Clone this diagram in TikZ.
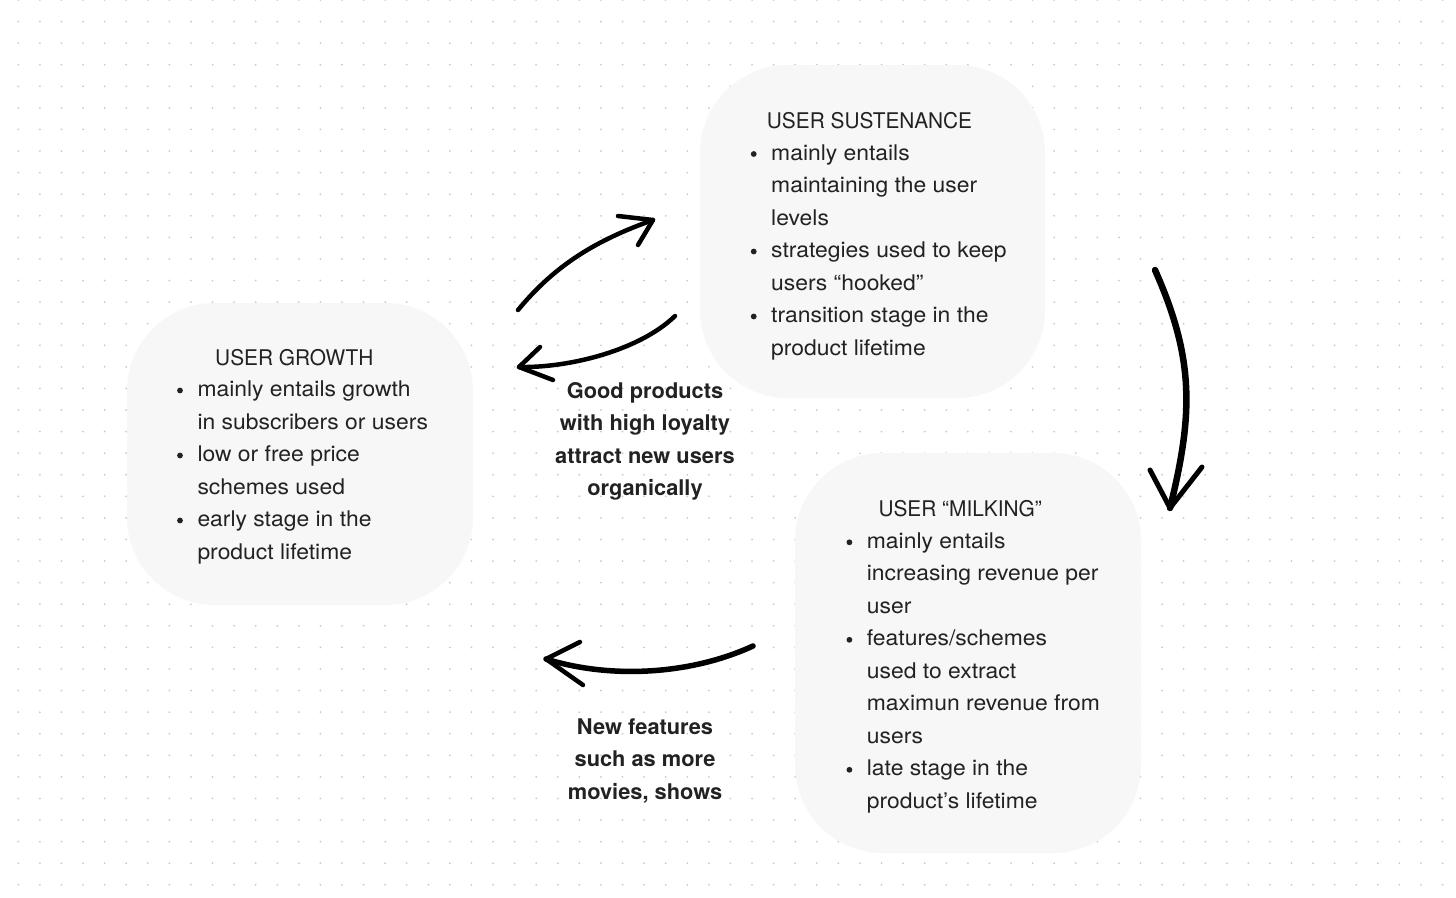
\documentclass[tikz,border=0pt]{standalone}
\usepackage{fontspec}
\setmainfont{TeX Gyre Heros}[FakeStretch=1.06]
\newfontfamily\labf{TeX Gyre Heros}[FakeStretch=1.01]
\newfontfamily\ttlf{TeX Gyre Heros}[FakeStretch=0.965]
\definecolor{boxfill}{HTML}{F7F7F7}
\definecolor{txt}{HTML}{222222}
\definecolor{dotc}{HTML}{CACACA}
\newcommand\bu{\makebox[6pt]{\tikz[baseline=0pt]\fill[txt] (3pt,6pt) circle (2.9pt);}\hspace{14.5pt}}
\newcommand\ind{\hspace{20.5pt}}
\tikzset{
  box/.style={fill=boxfill, rounded corners=88pt, inner sep=0},
  ttl/.style={anchor=base west, inner sep=0, text=txt, font=\ttlf\fontsize{21.6}{32.5}\selectfont},
  lst/.style={anchor=base west, inner sep=0, text=txt, font=\fontsize{21.6}{32.5}\selectfont},
  lbl/.style={anchor=base, inner sep=0, text=txt, font=\labf\bfseries\fontsize{21.6}{32.5}\selectfont},
  stroke/.style={line width=4.5pt, line cap=round, line join=round, draw=black},
}
\begin{document}
\begin{tikzpicture}[x=1pt,y=-1pt]
\useasboundingbox (0,0) rectangle (1456,897);
\clip (0,0) rectangle (1456,897);
\fill[white] (0,0) rectangle (1456,897);
% dot grid
\foreach \i in {0,...,66}{\foreach \j in {0,...,41}{\fill[dotc] ({18.3+21.58*\i},{21.58*\j}) circle (1pt);}}
% boxes
\node[box, minimum width=346pt, minimum height=302pt] (growth) at (300,454) {};
\node[box, minimum width=345pt, minimum height=333pt] (sust) at (872.5,231.5) {};
\node[box, minimum width=346pt, minimum height=400pt] (milk) at (968,653) {};
% box texts
\node[ttl] (growthT) at (215,365) {USER GROWTH};
\node[lst] (growthL) at (176.8,396.5) {\begin{tabular}[t]{@{}l@{}}
\bu mainly entails growth\\
\ind in subscribers or users\\
\bu low or free price\\
\ind schemes used\\
\bu early stage in the\\
\ind product lifetime
\end{tabular}};
\node[ttl] (sustT) at (766.7,128) {USER SUSTENANCE};
\node[lst] (sustL) at (750.5,160) {\begin{tabular}[t]{@{}l@{}}
\bu mainly entails\\
\ind maintaining the user\\
\ind levels\\
\bu strategies used to keep\\
\ind users “hooked”\\
\bu transition stage in the\\
\ind product lifetime
\end{tabular}};
\node[ttl] (milkT) at (878.3,516.5) {USER “MILKING”};
\node[lst] (milkL) at (846.2,548.3) {\begin{tabular}[t]{@{}l@{}}
\bu mainly entails\\
\ind increasing revenue per\\
\ind user\\
\bu features/schemes\\
\ind used to extract\\
\ind maximun revenue from\\
\ind users\\
\bu late stage in the\\
\ind product’s lifetime
\end{tabular}};
% middle labels
\node[lbl] (loyal) at (645,398) {\begin{tabular}[t]{@{}c@{}}Good products\\with high loyalty\\attract new users\\organically\end{tabular}};
\node[lbl] (feat) at (645,734) {\begin{tabular}[t]{@{}c@{}}New features\\such as more\\movies, shows\end{tabular}};
% arrow 1: growth -> sustenance
\coordinate (a1s) at (518,310); \coordinate (a1t) at (653,220);
\coordinate (a1l) at (618,216); \coordinate (a1r) at (638,245);
\draw[stroke] (a1s) .. controls (556,264) and (597,240) .. (a1t);
\draw[stroke] (a1l) -- (a1t) -- (a1r);
% arrow 2: sustenance -> growth
\coordinate (a2s) at (675,316); \coordinate (a2t) at (519,367);
\coordinate (a2l) at (540,347); \coordinate (a2r) at (553,380);
\draw[stroke] (a2s) .. controls (640,350) and (570,368) .. (a2t);
\draw[stroke] (a2l) -- (a2t) -- (a2r);
% arrow 3: sustenance -> milking
\coordinate (a3s) at (1155,270); \coordinate (a3t) at (1170,508);
\coordinate (a3l) at (1150,470); \coordinate (a3r) at (1202,467);
\draw[stroke, line width=6.5pt] (a3s) .. controls (1195,360) and (1193,415) .. (a3t);
\draw[stroke, line width=5pt] (a3l) -- (a3t) -- (a3r);
% arrow 4: milking -> growth
\coordinate (a4s) at (753,646); \coordinate (a4t) at (546,659);
\coordinate (a4l) at (580,642); \coordinate (a4r) at (583,685);
\draw[stroke, line width=5.5pt] (a4s) .. controls (690,675) and (610,679) .. (a4t);
\draw[stroke] (a4l) -- (a4t) -- (a4r);
\end{tikzpicture}
\end{document}
